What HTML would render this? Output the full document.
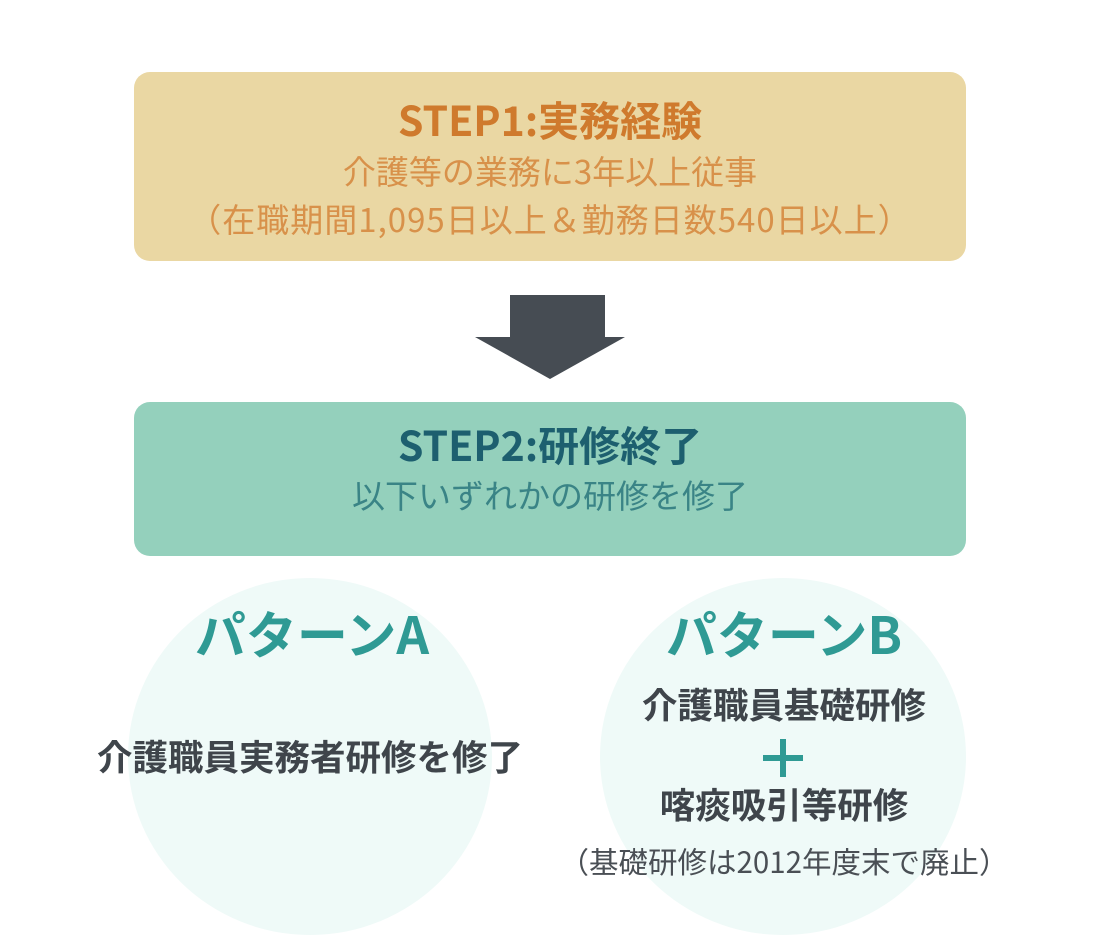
<!DOCTYPE html>
<html><head><meta charset="utf-8"><style>
body{margin:0;width:1100px;height:951px;background:#fff;position:relative;overflow:hidden;font-family:"Liberation Sans","Noto Sans CJK JP",sans-serif}
.a{position:absolute;left:0;width:1100px;text-align:center;white-space:nowrap;line-height:1;font-family:'Noto Sans CJK JP',sans-serif}
.box{position:absolute;left:134px;width:832px;border-radius:16px}
.c{position:absolute;border-radius:50%;background:#effaf8}
</style></head><body>
<div class="box" style="top:72px;height:189px;background:#ead7a3"></div>
<div class="a" style="top:98px;font-size:41px;font-weight:bold;color:#cf7a2d">STEP1:実務経験</div>
<div class="a" style="top:154px;font-size:33px;color:#d8914a">介護等の業務に3年以上従事</div>
<div class="a" style="top:202px;font-size:33px;color:#d8914a;letter-spacing:1px">（在職期間1,095日以上＆勤務日数540日以上）</div>
<svg style="position:absolute;left:0;top:0" width="1100" height="951"><path d="M510 295H605V337H625L550 379L475 337H510Z" fill="#464c53"/></svg>
<div class="box" style="top:402px;height:154px;background:#94d0bc"></div>
<div class="a" style="top:423px;font-size:41px;font-weight:bold;color:#1d5f6f">STEP2:研修終了</div>
<div class="a" style="top:478px;font-size:33px;color:#3a8486">以下いずれかの研修を修了</div>
<div class="c" style="left:128px;top:578px;width:364px;height:357px"></div>
<div class="c" style="left:600px;top:578px;width:366px;height:357px"></div>
<div class="a" style="left:-238px;top:607px;font-size:51px;font-weight:bold;color:#2f9a94">パターンA</div>
<div class="a" style="left:234px;top:607px;font-size:51px;font-weight:bold;color:#2f9a94">パターンB</div>
<div class="a" style="left:-240px;top:738px;font-size:35.5px;font-weight:bold;color:#3f454b">介護職員実務者研修を修了</div>
<div class="a" style="left:234px;top:686px;font-size:35.5px;font-weight:bold;color:#3f454b">介護職員基礎研修</div>
<svg style="position:absolute;left:0;top:0" width="1100" height="951"><path d="M783 739V777M763 758H803" stroke="#2f9a94" stroke-width="6"/></svg>
<div class="a" style="left:234px;top:786px;font-size:35.5px;font-weight:bold;color:#3f454b">喀痰吸引等研修</div>
<div class="a" style="left:234px;top:847px;font-size:29.5px;color:#4a4f55">（基礎研修は2012年度末で廃止）</div>
</body></html>
